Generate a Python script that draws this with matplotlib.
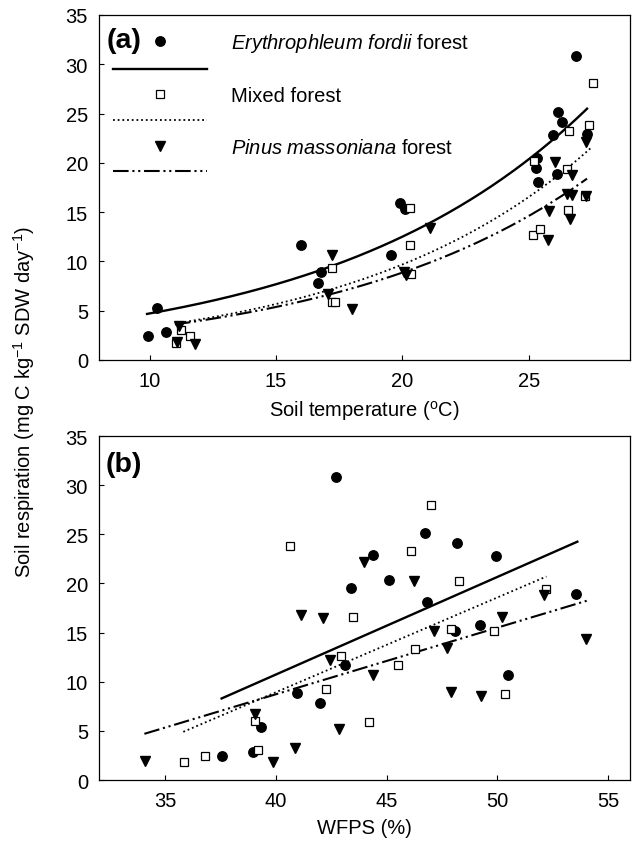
import numpy as np
import matplotlib
matplotlib.use("Agg")
import matplotlib.pyplot as plt
from matplotlib.lines import Line2D

plt.rcParams['font.family'] = ['Liberation Sans', 'DejaVu Sans']
plt.rcParams['mathtext.fontset'] = 'custom'
plt.rcParams['mathtext.rm'] = 'Liberation Sans'
plt.rcParams['mathtext.it'] = 'Liberation Sans:italic'
plt.rcParams['mathtext.bf'] = 'Liberation Sans:bold'

# ---------------- data: panel (a) soil temperature ----------------
a_ef_x = [9.95, 10.28, 10.63, 16.0, 16.67, 16.76, 19.55, 19.9, 20.09, 25.29, 25.34, 25.35, 25.94, 26.13, 26.17, 26.3, 26.85, 27.3]
a_ef_y = [2.4, 5.3, 2.8, 11.7, 7.8, 8.9, 10.7, 15.9, 15.3, 19.5, 20.45, 18.1, 22.8, 18.9, 25.2, 24.1, 30.8, 22.9]
a_mf_x = [11.05, 11.25, 11.6, 17.22, 17.22, 17.35, 20.3, 20.3, 20.35, 25.16, 25.21, 25.43, 26.5, 26.55, 26.6, 27.2, 27.37, 27.53]
a_mf_y = [1.7, 3.0, 2.4, 9.3, 5.9, 5.9, 15.4, 11.7, 8.75, 12.7, 20.2, 13.3, 19.4, 15.25, 23.2, 16.6, 23.8, 28.05]
a_pm_x = [11.1, 11.15, 11.8, 17.07, 17.23, 18.0, 20.05, 20.15, 21.09, 25.74, 25.81, 26.05, 26.5, 26.61, 26.69, 26.69, 27.26, 27.27]
a_pm_y = [1.8, 3.4, 1.65, 6.7, 10.7, 5.2, 8.9, 8.6, 13.4, 12.2, 15.1, 20.1, 16.8, 14.3, 18.8, 16.7, 22.1, 16.6]

# exponential fits y = a*exp(b*x): [a, b, xmin, xmax]
a_fit_ef = [1.78, 0.0975, 9.9, 27.3]
a_fit_mf = [1.14, 0.107, 11.2, 27.5]
a_fit_pm = [1.20, 0.100, 11.0, 27.3]

# ---------------- data: panel (b) WFPS ----------------
b_ef_x = [37.57, 38.96, 39.31, 40.96, 42.01, 42.73, 43.14, 43.41, 44.37, 45.1, 46.74, 46.83, 48.11, 48.17, 49.22, 49.93, 50.5, 53.57]
b_ef_y = [2.4, 2.9, 5.35, 8.9, 7.8, 30.8, 11.7, 19.5, 22.9, 20.4, 25.1, 18.1, 15.2, 24.1, 15.8, 22.8, 10.7, 18.95]
b_mf_x = [35.86, 36.79, 39.04, 39.19, 40.64, 42.27, 42.94, 43.47, 44.19, 45.52, 46.11, 46.27, 47.01, 47.91, 48.27, 49.83, 50.35, 52.22]
b_mf_y = [1.8, 2.4, 6.0, 3.05, 23.8, 9.25, 12.65, 16.6, 5.9, 11.75, 23.3, 13.3, 28.0, 15.35, 20.2, 15.2, 8.75, 19.4]
b_pm_x = [34.09, 39.04, 39.86, 40.87, 41.14, 42.12, 42.42, 42.84, 43.99, 44.38, 46.22, 47.16, 47.73, 47.91, 49.25, 50.2, 52.1, 54.02]
b_pm_y = [1.9, 6.7, 1.8, 3.3, 16.8, 16.5, 12.25, 5.2, 22.15, 10.7, 20.2, 15.15, 13.4, 9.0, 8.5, 16.6, 18.85, 14.3]

# linear fits y = slope*x + intercept: [slope, intercept, xmin, xmax]
b_fit_ef = [0.992, -28.94, 37.54, 53.62]
b_fit_mf = [0.963, -29.58, 35.81, 52.22]
b_fit_pm = [0.677, -18.35, 34.05, 54.06]

y_ticks = [0, 5, 10, 15, 20, 25, 30, 35]
a_xticks = [10, 15, 20, 25]
b_xticks = [35, 40, 45, 50, 55]

labels = [r"$\mathit{Erythrophleum\ fordii}$ forest",
          "Mixed forest",
          r"$\mathit{Pinus\ massoniana}$ forest"]

# ---------------- styles ----------------
FS = 14.5
ms_c = 6.8
ms_s = 5.6
ms_t = 6.6
lw_fit = 1.5
dots = (0, (1.0, 1.6))
dashdotdot = (0, (7.5, 1.8, 1.0, 1.8, 1.0, 1.8))

fig = plt.figure(figsize=(6.38, 8.45), dpi=100)
axA = fig.add_axes([0.1552, 0.5728, 0.8323, 0.4083])
axB = fig.add_axes([0.1552, 0.0757, 0.8323, 0.4071])


def scatter_sets(ax, ef, mf, pm):
    ax.plot(ef[0], ef[1], linestyle='none', marker='o', ms=ms_c, mfc='black', mec='black', zorder=3)
    ax.plot(mf[0], mf[1], linestyle='none', marker='s', ms=ms_s, mfc='white', mec='black', mew=0.9, zorder=3)
    ax.plot(pm[0], pm[1], linestyle='none', marker='v', ms=ms_t, mfc='black', mec='black', zorder=3)


def style_axes(ax, xlim, xticks):
    ax.set_xlim(*xlim)
    ax.set_ylim(0, 35)
    ax.set_xticks(xticks)
    ax.set_yticks(y_ticks)
    ax.tick_params(direction='in', length=3.5, width=0.8, labelsize=FS, pad=8)
    for s in ax.spines.values():
        s.set_linewidth(0.9)


# panel (a)
scatter_sets(axA, (a_ef_x, a_ef_y), (a_mf_x, a_mf_y), (a_pm_x, a_pm_y))
for p, ls, lw in [(a_fit_ef, '-', 1.7), (a_fit_mf, dots, 1.3), (a_fit_pm, dashdotdot, lw_fit)]:
    xs = np.linspace(p[2], p[3], 200)
    axA.plot(xs, p[0] * np.exp(p[1] * xs), color='black', linestyle=ls, lw=lw, zorder=2)
style_axes(axA, (8, 29), a_xticks)
axA.set_xlabel(r"Soil temperature ($^{\mathrm{o}}$C)", fontsize=FS, labelpad=6)
axA.text(0.015, 0.928, "(a)", transform=axA.transAxes, fontsize=20.5, fontweight='bold', va='center', ha='left')

handles = [
    Line2D([], [], linestyle='none', marker='o', ms=ms_c, mfc='black', mec='black'),
    Line2D([], [], color='black', linestyle='-', lw=1.7),
    Line2D([], [], linestyle='none', marker='s', ms=ms_s, mfc='white', mec='black', mew=0.9),
    Line2D([], [], color='black', linestyle=dots, lw=1.3),
    Line2D([], [], linestyle='none', marker='v', ms=ms_t, mfc='black', mec='black'),
    Line2D([], [], color='black', linestyle=dashdotdot, lw=lw_fit),
]
leg_labels = [labels[0], " ", labels[1], " ", labels[2], " "]
axA.legend(handles, leg_labels, loc='upper left', bbox_to_anchor=(0.026, 0.953),
           frameon=False, fontsize=FS, handlelength=4.7, handletextpad=1.15,
           labelspacing=0.33, borderaxespad=0, borderpad=0)

# panel (b)
scatter_sets(axB, (b_ef_x, b_ef_y), (b_mf_x, b_mf_y), (b_pm_x, b_pm_y))
for p, ls, lw in [(b_fit_ef, '-', 1.7), (b_fit_mf, dots, 1.3), (b_fit_pm, dashdotdot, lw_fit)]:
    xs = np.array([p[2], p[3]])
    axB.plot(xs, p[0] * xs + p[1], color='black', linestyle=ls, lw=lw, zorder=2)
style_axes(axB, (32, 56), b_xticks)
axB.set_xlabel("WFPS (%)", fontsize=FS, labelpad=6)
axB.text(0.013, 0.919, "(b)", transform=axB.transAxes, fontsize=20.5, fontweight='bold', va='center', ha='left')

fig.text(0.038, 0.524, r"Soil respiration (mg C kg$^{-1}$ SDW day$^{-1}$)",
         rotation=90, fontsize=FS, ha='center', va='center')

fig.savefig("out.png", dpi=100)
